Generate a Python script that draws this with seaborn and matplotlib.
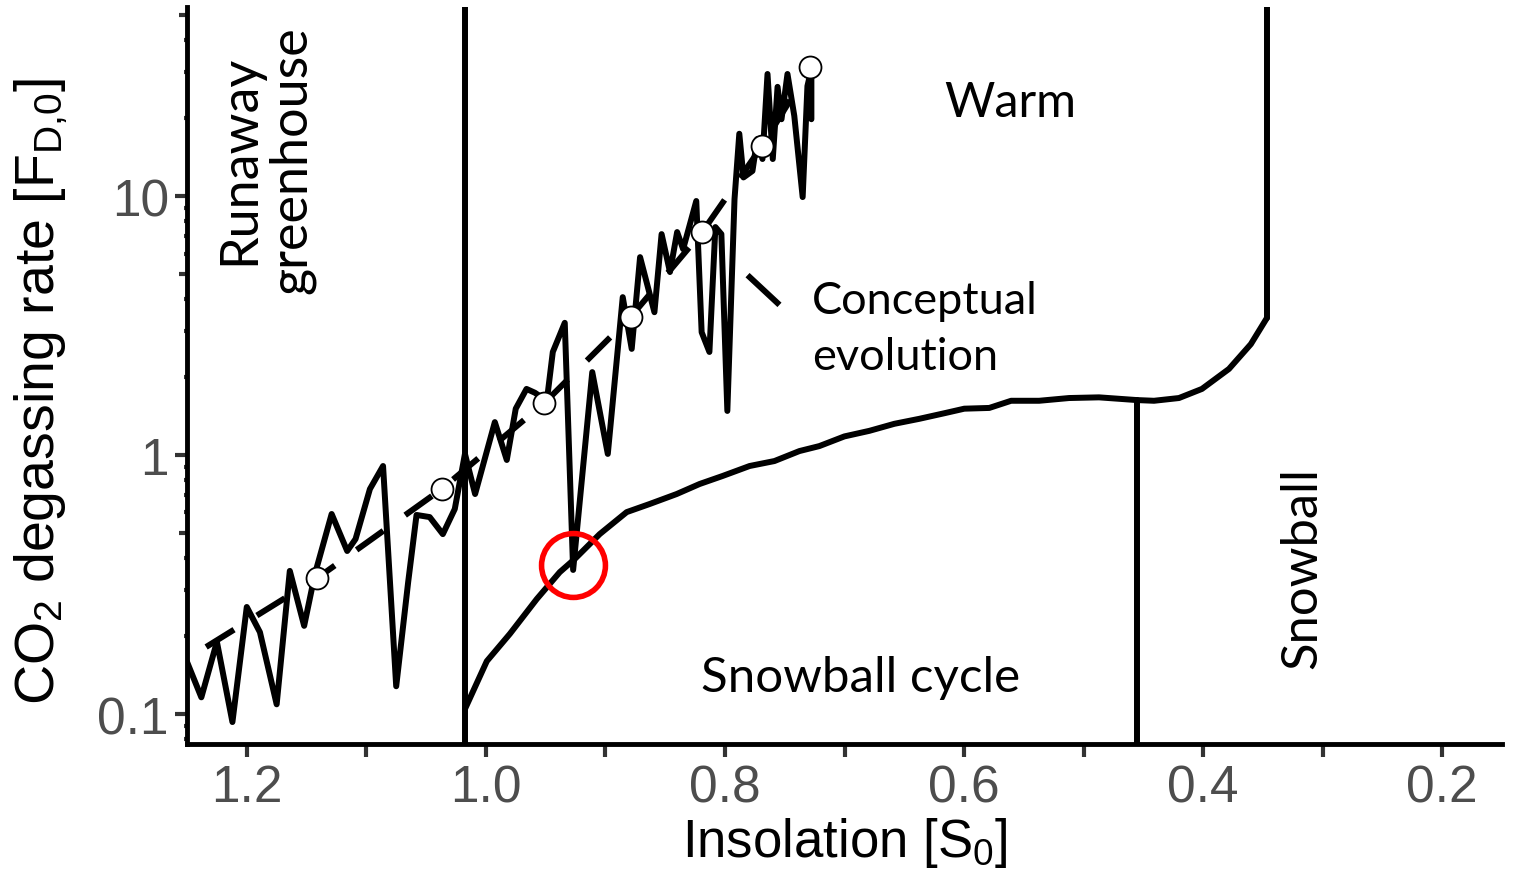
import numpy as np
import pandas as pd
import matplotlib
matplotlib.use("Agg")
import matplotlib.pyplot as plt
import matplotlib.transforms as mtransforms
from matplotlib.markers import TICKLEFT
from matplotlib.ticker import FixedLocator, NullFormatter
import seaborn as sns

# Simulated trajectory: insolation [S0] vs CO2 degassing rate [F_D,0]
traj_s = [1.250, 1.238, 1.225, 1.212, 1.200, 1.189, 1.175, 1.164, 1.152, 1.143,
          1.129, 1.116, 1.109, 1.097, 1.086, 1.075, 1.065, 1.058, 1.047, 1.036,
          1.026, 1.0175, 1.009, 0.9925, 0.9825, 0.975, 0.966, 0.959, 0.949, 0.944,
          0.934, 0.927, 0.911, 0.898, 0.8855, 0.878, 0.871, 0.859, 0.853, 0.846,
          0.840, 0.835, 0.824, 0.8195, 0.813, 0.808, 0.803, 0.798, 0.792, 0.788,
          0.7845, 0.777, 0.773, 0.7686, 0.7644, 0.760, 0.756, 0.7527, 0.7477, 0.742,
          0.735, 0.731, 0.7277, 0.7277]
traj_f = [0.159, 0.116, 0.190, 0.0931, 0.259, 0.207, 0.109, 0.357, 0.219, 0.347,
          0.592, 0.426, 0.474, 0.739, 0.907, 0.128, 0.323, 0.587, 0.576, 0.495,
          0.619, 1.01, 0.707, 1.34, 0.957, 1.51, 1.80, 1.74, 1.62, 2.50,
          3.24, 0.360, 2.09, 1.01, 4.07, 2.57, 5.81, 3.56, 7.13, 5.09,
          7.26, 6.24, 9.57, 2.98, 2.50, 7.59, 7.13, 1.48, 9.73, 17.4,
          11.8, 12.5, 16.6, 13.9, 29.6, 13.9, 26.4, 19.8, 29.6, 20.4,
          9.91, 26.6, 30.9, 19.8]

# Conceptual evolution (dashed) and its equally spaced steps (open circles)
trend_s = [1.234, 1.141, 1.037, 0.951, 0.879, 0.819, 0.769, 0.7285]
trend_f = [0.1815, 0.335, 0.739, 1.59, 3.41, 7.26, 15.6, 31.5]
step_s = trend_s[1:]
step_f = trend_f[1:]

# Lower boundary of the warm regime (snowball-cycle threshold)
bound_s = [1.0175, 0.9992, 0.9799, 0.9574, 0.9382, 0.9256, 0.9048, 0.8822, 0.863,
           0.8404, 0.8212, 0.802, 0.7794, 0.7586, 0.7377, 0.721, 0.7001, 0.6792,
           0.6583, 0.6374, 0.6165, 0.5998, 0.5789, 0.5606, 0.5372, 0.5121, 0.4871,
           0.4553, 0.4411, 0.4202, 0.401, 0.3784, 0.3601, 0.3467]
bound_f = [0.1045, 0.160, 0.204, 0.278, 0.353, 0.397, 0.495, 0.602, 0.647,
           0.707, 0.773, 0.830, 0.907, 0.948, 1.036, 1.083, 1.18, 1.24,
           1.32, 1.38, 1.45, 1.51, 1.52, 1.62, 1.62, 1.66, 1.67,
           1.63, 1.62, 1.66, 1.80, 2.15, 2.68, 3.38]

# Regime edges
runaway_s = 1.0175
cycle_edge_s = 0.4553
cycle_edge_f = 1.63
snowball_edge_s = 0.3467
snowball_edge_f = 3.38

# Highlighted state
hi_s, hi_f = 0.927, 0.376

# Key segment for the conceptual evolution label
key_s = [0.7811, 0.7544]
key_f = [4.95, 3.80]

x_lim = (1.25, 0.15)
y_lim = (0.0766, 53.7)
x_major = [1.2, 1.0, 0.8, 0.6, 0.4, 0.2]
x_labels = ["1.2", "1.0", "0.8", "0.6", "0.4", "0.2"]
x_minor = [1.1, 0.9, 0.7, 0.5, 0.3]
y_major = [0.1, 1, 10]
y_labels = ["0.1", "1", "10"]
y_mid = [0.5, 5, 50]
y_small = [0.08, 0.09, 0.2, 0.3, 0.4, 0.6, 0.7, 0.8, 0.9,
           2, 3, 4, 6, 7, 8, 9, 20, 30, 40]

sns.set_theme(style="white")
plt.rcParams["font.family"] = ["Liberation Sans", "DejaVu Sans"]
plt.rcParams["mathtext.fontset"] = "custom"
plt.rcParams["mathtext.rm"] = "Liberation Sans"
plt.rcParams["mathtext.default"] = "regular"

fig = plt.figure(figsize=(15.16, 8.78), dpi=100)
ax = fig.add_axes([187 / 1516, 1 - 745 / 878, 1315 / 1516, 737 / 878])
ax.set_facecolor("white")

LW = 4.3
ax.axvline(runaway_s, color="black", lw=LW, solid_capstyle="butt", zorder=2)
ax.plot([cycle_edge_s, cycle_edge_s], [y_lim[0], cycle_edge_f], color="black", lw=LW, zorder=2)
ax.plot([snowball_edge_s, snowball_edge_s], [snowball_edge_f, y_lim[1]], color="black", lw=LW, zorder=2)

sns.lineplot(x=bound_s, y=bound_f, sort=False, estimator=None, color="black", lw=LW, ax=ax, zorder=3)
sns.lineplot(x=trend_s, y=trend_f, sort=False, estimator=None, color="black", lw=LW,
             dashes=False, ax=ax, zorder=3)
ax.lines[-1].set_dashes((5.5, 4.5))
ax.lines[-1].set_dash_capstyle("butt")
sns.lineplot(x=traj_s, y=traj_f, sort=False, estimator=None, color="black", lw=LW, ax=ax, zorder=4)
ax.plot(key_s, key_f, color="black", lw=LW, solid_capstyle="butt", zorder=4)

sns.scatterplot(x=step_s, y=step_f, s=250, color="white", edgecolor="black", linewidth=1.3, ax=ax, zorder=6)
ax.plot([hi_s], [hi_f], marker="o", markersize=46, mfc="none", mec="#FF0000", mew=4.0, zorder=7)

ax.set_yscale("log")
ax.set_xlim(*x_lim)
ax.set_ylim(*y_lim)

for side in ["top", "right"]:
    ax.spines[side].set_visible(False)
for side in ["left", "bottom"]:
    ax.spines[side].set_color("black")
    ax.spines[side].set_linewidth(3.5)

ax.xaxis.set_major_locator(FixedLocator(x_major))
ax.set_xticklabels(x_labels)
ax.xaxis.set_minor_locator(FixedLocator(x_minor))
ax.tick_params(axis="x", which="both", bottom=True, length=9, width=3, color="#333333",
               labelsize=37, labelcolor="#4D4D4D", pad=5)

ax.yaxis.set_major_locator(FixedLocator(y_major))
ax.set_yticklabels(y_labels)
ax.yaxis.set_minor_locator(FixedLocator(y_small))
ax.yaxis.set_minor_formatter(NullFormatter())
ax.tick_params(axis="y", which="major", left=True, length=9, width=3, color="#333333",
               labelsize=37, labelcolor="#4D4D4D", pad=4)
ax.tick_params(axis="y", which="minor", left=True, length=2.5, width=3, color="#333333")
mid_tf = mtransforms.blended_transform_factory(ax.transAxes, ax.transData)
ax.plot([0] * len(y_mid), y_mid, transform=mid_tf, marker=TICKLEFT, markersize=6, mew=3,
        color="#333333", linestyle="none", clip_on=False, zorder=1)

ax.set_xlabel("Insolation [S$_0$]", fontsize=38, color="black", labelpad=2)
ax.set_ylabel("CO$_2$ degassing rate [F$_{D{,}0}$]", fontsize=40, color="black")
ax.yaxis.set_label_coords(-0.089, 0.479)
ax.grid(False)

fam = ["Lato", "DejaVu Sans"]
ax.text(0.060, 0.794, "Runaway\ngreenhouse", transform=ax.transAxes, rotation=90,
        ha="center", va="center", multialignment="center", linespacing=1.12,
        family=fam, fontsize=37.5, color="black")
ax.text(0.626, 0.871, "Warm", transform=ax.transAxes, ha="center", va="center",
        family=fam, fontsize=35, color="black")
ax.text(0.475, 0.564, "Conceptual\nevolution", transform=ax.transAxes, ha="left", va="center",
        linespacing=1.45, family=fam, fontsize=32.5, color="black")
ax.text(0.512, 0.091, "Snowball cycle", transform=ax.transAxes, ha="center", va="center",
        family=fam, fontsize=35.5, color="black")
ax.text(0.848, 0.240, "Snowball", transform=ax.transAxes, rotation=90, ha="center", va="center",
        family=fam, fontsize=36.5, color="black")

fig.savefig("out.png", dpi=100, facecolor="white")
